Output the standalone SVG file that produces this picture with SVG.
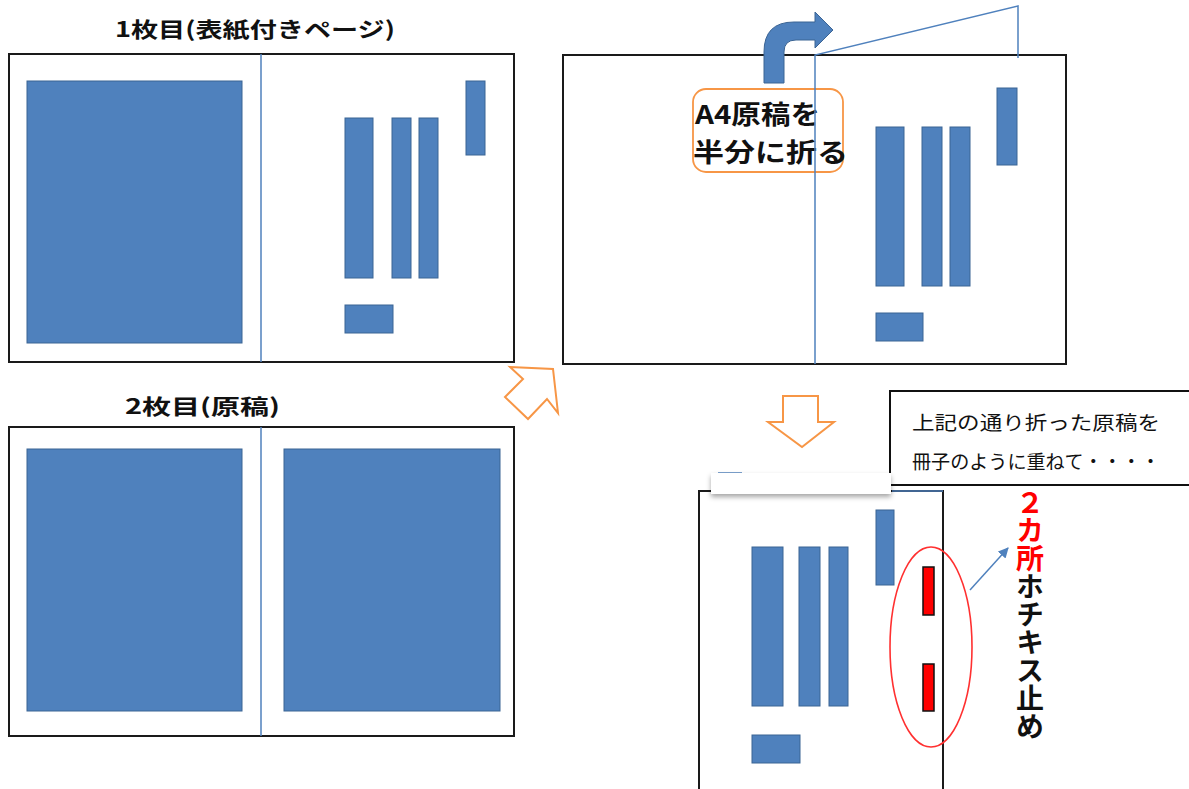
<svg xmlns="http://www.w3.org/2000/svg" width="1189" height="789" viewBox="0 0 1189 789">
<style>
.sheet{fill:#fff;stroke:#1a1a1a;stroke-width:2}
.blk{fill:#4F81BD;stroke:#3B6494;stroke-width:1}
.fold{stroke:#4F81BD;stroke-width:1.5;fill:none}
.title{font-family:"Noto Sans CJK JP","Noto Sans",sans-serif;font-weight:700;font-size:21px;fill:#111}
.note{font-family:"Noto Sans CJK JP","Noto Sans",sans-serif;font-size:19px;fill:#111}
.big{font-family:"Noto Sans CJK JP","Noto Sans",sans-serif;font-weight:700;font-size:26px;fill:#111}
.hollow{fill:#fff;stroke:#F79646;stroke-width:2;stroke-linejoin:miter}
</style>
<defs>
<filter id="sh" x="-10%" y="-50%" width="120%" height="220%">
<feDropShadow dx="0" dy="3" stdDeviation="2.5" flood-color="#000" flood-opacity="0.35"/>
</filter>
<marker id="ah" viewBox="0 0 10 10" refX="9" refY="5" markerWidth="7" markerHeight="7" orient="auto">
<path d="M0,0 L10,5 L0,10 Z" fill="#4F81BD"/>
</marker>
</defs>
<rect width="1189" height="789" fill="#fff"/>

<g id="sheet1">
<text class="title" x="115" y="37" textLength="280" lengthAdjust="spacingAndGlyphs">1枚目(表紙付きページ)</text>
<rect class="sheet" x="9" y="54" width="505" height="308"/>
<line class="fold" x1="261" y1="54" x2="261" y2="362"/>
<rect class="blk" x="27" y="81" width="215" height="262"/>
<rect class="blk" x="345" y="118" width="28" height="160"/>
<rect class="blk" x="392" y="118" width="19" height="160"/>
<rect class="blk" x="419" y="118" width="19" height="160"/>
<rect class="blk" x="466" y="81" width="19" height="74"/>
<rect class="blk" x="345" y="305" width="48" height="28"/>
</g>

<g id="sheet2">
<text class="title" x="125" y="414" textLength="155" lengthAdjust="spacingAndGlyphs">2枚目(原稿)</text>
<rect class="sheet" x="9" y="427" width="505" height="309"/>
<rect class="blk" x="27" y="449" width="215" height="262"/>
<rect class="blk" x="284" y="449" width="216" height="262"/>
<line class="fold" x1="261" y1="427" x2="261" y2="736"/>
</g>

<g id="folded">
<rect class="sheet" x="563" y="55" width="503" height="309"/>
<rect class="blk" x="876" y="127" width="28" height="159"/>
<rect class="blk" x="922" y="127" width="20" height="159"/>
<rect class="blk" x="950" y="127" width="20" height="159"/>
<rect class="blk" x="997" y="88" width="20" height="77"/>
<rect class="blk" x="876" y="313" width="47" height="28"/>
<path d="M764,83 L764,52 Q764,22 794,22 L815,22 L815,12 L833,30 L815,48 L815,40 L796,40 Q784,40 784,52 L784,83 Z" fill="#4F81BD" stroke="#3B6494" stroke-width="1"/>
<rect x="693" y="89" width="150" height="83" rx="13" fill="#fff" stroke="#F79646" stroke-width="1.8"/>
<text class="big" x="695" y="124" textLength="125" lengthAdjust="spacingAndGlyphs">A4原稿を</text>
<text class="big" x="693" y="162" textLength="155" lengthAdjust="spacingAndGlyphs">半分に折る</text>
<polyline class="fold" points="815,364 815,55 1018,6 1018,58" stroke-width="1.3"/>
</g>

<g id="note">
<rect x="890" y="391" width="305" height="94" fill="#fff" stroke="#111" stroke-width="2"/>
<text class="note" x="912" y="430" textLength="248" lengthAdjust="spacingAndGlyphs">上記の通り折った原稿を</text>
<text class="note" x="912" y="469" textLength="248" lengthAdjust="spacingAndGlyphs">冊子のように重ねて・・・・</text>
</g>

<g id="booklet">
<rect class="sheet" x="699" y="491" width="244" height="310"/>
<line x1="892" y1="491" x2="943" y2="491" stroke="#4F81BD" stroke-width="1.5"/>
<line x1="718" y1="473" x2="742" y2="473" stroke="#4F81BD" stroke-width="1.5"/>
<rect x="711" y="473" width="180" height="21" fill="#fff" filter="url(#sh)"/>
<rect class="blk" x="752" y="547" width="31" height="159"/>
<rect class="blk" x="799" y="547" width="21" height="159"/>
<rect class="blk" x="829" y="547" width="19" height="159"/>
<rect class="blk" x="876" y="510" width="18" height="75"/>
<rect class="blk" x="752" y="735" width="48" height="28"/>
<rect x="923" y="567" width="11" height="48" fill="#FF0000" stroke="#111" stroke-width="1.5"/>
<rect x="923" y="664" width="11" height="47" fill="#FF0000" stroke="#111" stroke-width="1.5"/>
<ellipse cx="931" cy="647" rx="41" ry="100" fill="none" stroke="#FF3030" stroke-width="1.6"/>
</g>

<g id="staple-label">
<text x="1030" y="488" style="writing-mode:vertical-rl;text-orientation:upright" font-family="'Noto Sans CJK JP','Noto Sans',sans-serif" font-weight="700" font-size="28" fill="#111" letter-spacing="0"><tspan fill="#FF0000">２カ所</tspan>ホチキス止め</text>
</g>

<g id="connectors">
<polygon class="hollow" points="510,367 553,369 558,413 547,399 528,419 505,397 523,379"/>
<polygon class="hollow" points="783,396 818,396 818,422 834,422 802,447 768,422 783,422"/>
<line x1="970" y1="590" x2="1008" y2="548" stroke="#4F81BD" stroke-width="1.5" marker-end="url(#ah)"/>
</g>
</svg>
